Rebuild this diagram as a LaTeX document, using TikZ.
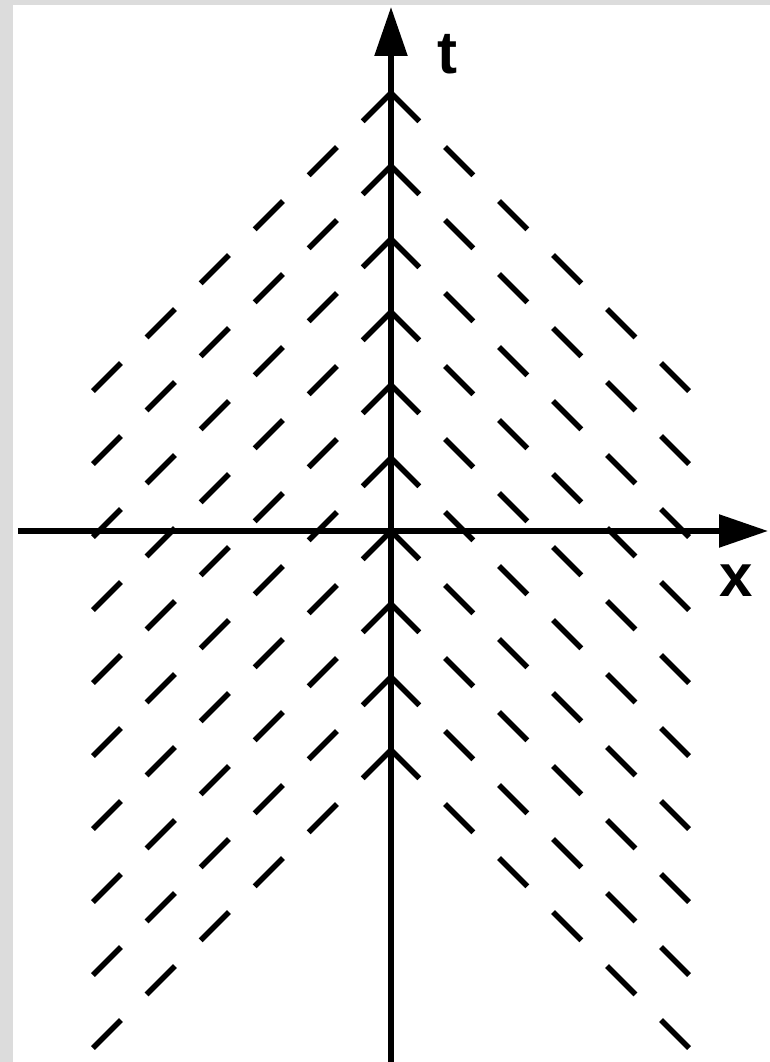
\documentclass[tikz,border=0pt]{standalone}
\usepackage{fontspec}
\setmainfont{Liberation Sans}
\usetikzlibrary{arrows.meta}
\definecolor{framegray}{RGB}{220,220,220}
\begin{document}
\begin{tikzpicture}[x=1pt,y=1pt,
    axis/.style={line width=5.5pt,-{Triangle[length=49pt,width=32pt]}},
    charline/.style={line width=5.5pt,dash pattern=on 40pt off 36.4pt},
    axislabel/.style={font=\bfseries\fontsize{60}{60}\selectfont,inner sep=0pt}]
        \useasboundingbox (-391,-531) rectangle (379,531);
        \fill[framegray] (-391,-531) rectangle (379,531);
        \fill[white] (-378,-531) rectangle (379,526);
        \coordinate (O) at (0,0);
        \coordinate (xstart) at (-373,0);
        \coordinate (xend) at (377,0);
        \coordinate (tstart) at (0,-531);
        \coordinate (tend) at (0,524);
        \foreach \i in {0,...,9} {
            \coordinate (c\i) at (0,438-73*\i);
            \draw[charline] (c\i) -- ++(-298,-298);
            \draw[charline] (c\i) -- ++(298,-298);
        }
        \draw[axis] (xstart) -- (xend);
        \draw[axis] (tstart) -- (tend);
        \node[axislabel] (tlabel) at (56,477) {t};
        \node[axislabel] (xlabel) at (345,-50) {x};
    \end{tikzpicture}
\end{document}
